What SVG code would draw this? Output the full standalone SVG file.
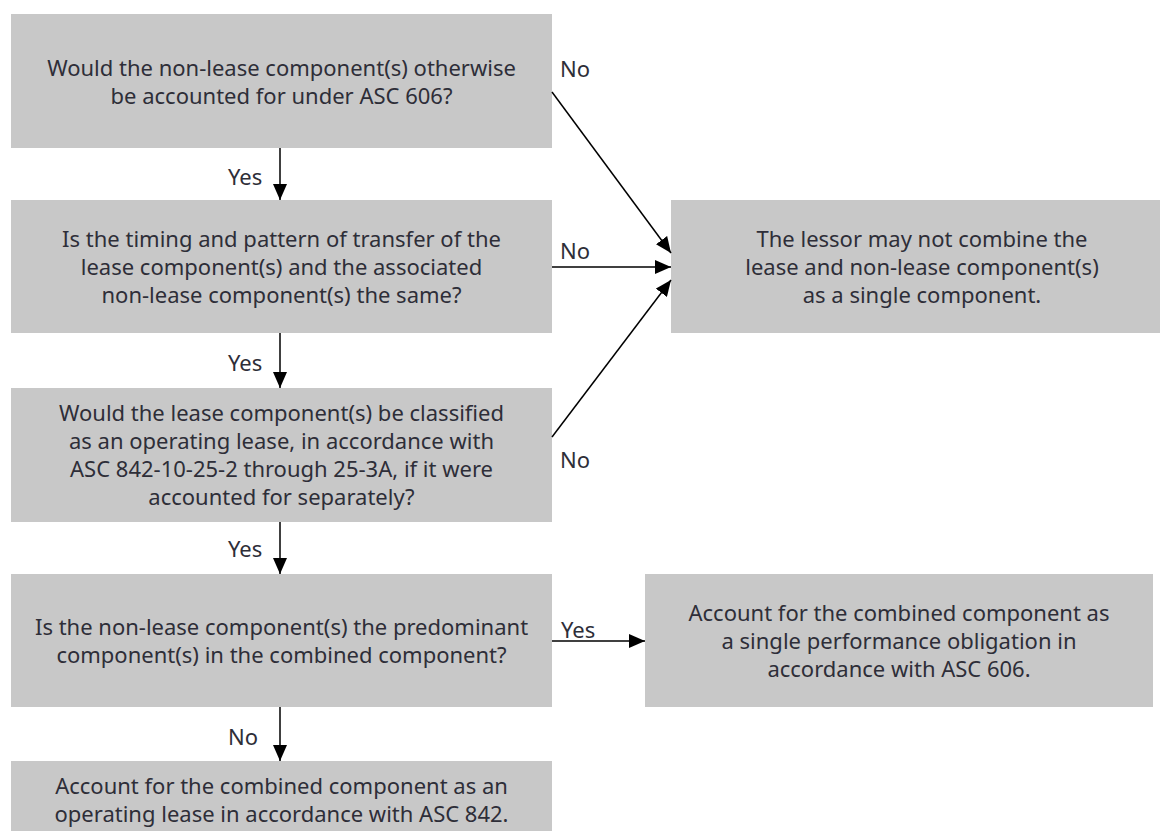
<svg xmlns="http://www.w3.org/2000/svg" width="1160" height="831" viewBox="0 0 1160 831">
<style>
.box{fill:#c8c8c8}
.t{font-family:"Noto Sans","Liberation Sans",Arial,sans-serif;font-size:22px;fill:#2e2e38;text-anchor:middle}
.l{font-family:"Noto Sans","Liberation Sans",Arial,sans-serif;font-size:22px;fill:#2e2e38}
.c{stroke:#000;stroke-width:1.5;fill:none;marker-end:url(#ah)}
</style>
<defs>
<marker id="ah" viewBox="0 0 16 14" refX="16" refY="7" markerWidth="16" markerHeight="14" orient="auto" markerUnits="userSpaceOnUse">
<path d="M0,0 L16,7 L0,14 z" fill="#000"/>
</marker>
</defs>
<rect width="1160" height="831" fill="#fff"/>
<g id="q1">
<rect class="box" x="11" y="14" width="541" height="134"/>
<text class="t" x="281.5" y="76">Would the non-lease component(s) otherwise</text>
<text class="t" x="281.5" y="104">be accounted for under ASC 606?</text>
</g>
<g id="q2">
<rect class="box" x="11" y="200" width="541" height="133"/>
<text class="t" x="281.5" y="247">Is the timing and pattern of transfer of the</text>
<text class="t" x="281.5" y="275">lease component(s) and the associated</text>
<text class="t" x="281.5" y="303">non-lease component(s) the same?</text>
</g>
<g id="q3">
<rect class="box" x="11" y="388" width="541" height="134"/>
<text class="t" x="281.5" y="421">Would the lease component(s) be classified</text>
<text class="t" x="281.5" y="449">as an operating lease, in accordance with</text>
<text class="t" x="281.5" y="477">ASC 842-10-25-2 through 25-3A, if it were</text>
<text class="t" x="281.5" y="505">accounted for separately?</text>
</g>
<g id="q4">
<rect class="box" x="11" y="574" width="541" height="133"/>
<text class="t" x="281.5" y="635">Is the non-lease component(s) the predominant</text>
<text class="t" x="281.5" y="663">component(s) in the combined component?</text>
</g>
<g id="r3">
<rect class="box" x="11" y="761" width="541" height="80"/>
<text class="t" x="281.5" y="794">Account for the combined component as an</text>
<text class="t" x="281.5" y="822">operating lease in accordance with ASC 842.</text>
</g>
<g id="r1">
<rect class="box" x="671" y="200" width="489" height="133"/>
<text class="t" x="922" y="247">The lessor may not combine the</text>
<text class="t" x="922" y="275">lease and non-lease component(s)</text>
<text class="t" x="922" y="303">as a single component.</text>
</g>
<g id="r2">
<rect class="box" x="645" y="574" width="508" height="133"/>
<text class="t" x="899" y="621">Account for the combined component as</text>
<text class="t" x="899" y="649">a single performance obligation in</text>
<text class="t" x="899" y="677">accordance with ASC 606.</text>
</g>
<g id="connectors">
<line class="c" x1="280" y1="148" x2="280" y2="200"/>
<line class="c" x1="280" y1="333" x2="280" y2="388"/>
<line class="c" x1="280" y1="522" x2="280" y2="574"/>
<line class="c" x1="280" y1="707" x2="280" y2="761"/>
<line class="c" x1="552" y1="92" x2="671" y2="253"/>
<line class="c" x1="552" y1="267" x2="671" y2="267"/>
<line class="c" x1="552" y1="437" x2="671" y2="280"/>
<line class="c" x1="552" y1="641" x2="645" y2="641"/>
<text class="l" x="228" y="185">Yes</text>
<text class="l" x="228" y="371">Yes</text>
<text class="l" x="228" y="557">Yes</text>
<text class="l" x="228" y="745">No</text>
<text class="l" x="560" y="77">No</text>
<text class="l" x="560" y="259">No</text>
<text class="l" x="560" y="468">No</text>
<text class="l" x="561" y="638">Yes</text>
</g>
</svg>
